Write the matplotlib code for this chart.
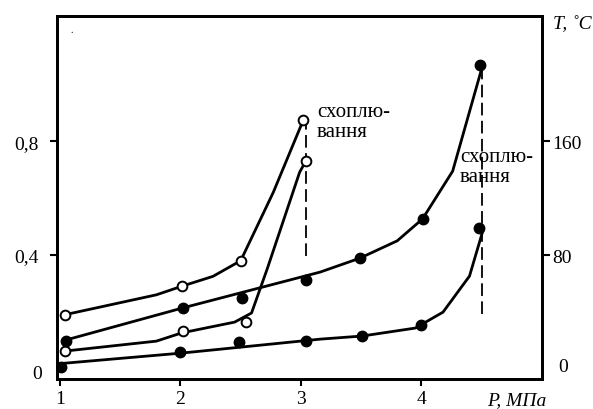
import matplotlib.pyplot as plt

plt.rcParams['font.family'] = ['Liberation Serif', 'DejaVu Serif']

# curve 1 (open circles, upper)
p1_pts = [1.04, 2.01, 2.50, 3.02]
v1_pts = [0.19, 0.29, 0.38, 0.875]
p1_line = [1.04, 1.80, 2.01, 2.27, 2.50, 2.77, 3.02]
v1_line = [0.19, 0.26, 0.29, 0.325, 0.38, 0.62, 0.875]

# curve 2 (filled circles, upper)
p2_pts = [1.05, 2.02, 2.51, 3.04, 3.49, 4.01, 4.49]
v2_pts = [0.097, 0.214, 0.249, 0.312, 0.389, 0.527, 1.068]
p2_line = [1.04, 2.02, 3.16, 3.49, 3.80, 4.01, 4.26, 4.50]
v2_line = [0.10, 0.214, 0.34, 0.389, 0.45, 0.527, 0.695, 1.054]

# curve 3 (open circles, lower)
p3_pts = [1.04, 2.02, 2.54, 3.04]
v3_pts = [0.062, 0.133, 0.164, 0.730]
p3_line = [1.04, 1.80, 2.01, 2.45, 2.59, 2.72, 2.99, 3.04]
v3_line = [0.062, 0.097, 0.126, 0.164, 0.196, 0.351, 0.692, 0.730]

# curve 4 (filled circles, lower)
p4_pts = [1.008, 1.996, 2.49, 3.04, 3.51, 4.00, 4.48]
v4_pts = [0.006, 0.059, 0.094, 0.097, 0.115, 0.154, 0.495]
p4_line = [0.975, 2.01, 3.16, 3.51, 3.95, 4.18, 4.40, 4.51]
v4_line = [0.017, 0.055, 0.104, 0.115, 0.143, 0.199, 0.326, 0.484]

# seizure limits (dashed)
seize_p = [3.04, 4.50]
seize_top = [0.875, 1.054]
seize_bot = [0.396, 0.192]

fig = plt.figure(figsize=(5.93, 4.10), dpi=100)
ax = fig.add_axes([0.0956, 0.0732, 0.8192, 0.8853])
ax.set_xlim(0.972, 5.006)
ax.set_ylim(-0.0362, 1.241)

lw = 2.0
ax.plot(p1_line, v1_line, color='k', lw=lw, zorder=2)
ax.plot(p2_line, v2_line, color='k', lw=lw, zorder=2)
ax.plot(p3_line, v3_line, color='k', lw=lw, zorder=2)
ax.plot(p4_line, v4_line, color='k', lw=lw, zorder=2)

ax.plot(p1_pts, v1_pts, 'o', mfc='white', mec='k', mew=1.4, ms=7, zorder=3)
ax.plot(p3_pts, v3_pts, 'o', mfc='white', mec='k', mew=1.4, ms=7, zorder=3)
ax.plot(p2_pts, v2_pts, 'o', color='k', ms=7.5, zorder=3)
ax.plot(p4_pts, v4_pts, 'o', color='k', ms=7.5, zorder=3)

for x, y0, y1 in zip(seize_p, seize_bot, seize_top):
    ax.plot([x, x], [y0, y1], color='k', lw=1.3, dashes=(7, 3), zorder=1)

ax.text(3.133, 0.870, 'схоплю-\nвання', fontsize=15, va='center', ha='left', linespacing=1.05)
ax.text(4.321, 0.711, 'схоплю-\nвання', fontsize=15, va='center', ha='left', linespacing=1.05)
ax.text(1.099, 1.177, '.', fontsize=7, ha='center', va='bottom')

ax.set_xticks([1, 2, 3, 4])
ax.set_xticklabels(['1', '2', '3', '4'])
ax.set_yticks([0.4, 0.8])
ax.set_yticklabels(['0,4', '0,8'])
ax.tick_params(axis='x', direction='out', length=5, width=1.5, labelsize=14, pad=3)
ax.tick_params(axis='y', direction='out', length=5, width=1.5, labelsize=14, pad=8)
for s in ax.spines.values():
    s.set_linewidth(2)

ax2 = ax.twinx()
ax2.set_ylim(-0.0362 * 200, 1.241 * 200)
ax2.set_yticks([80, 160])
ax2.set_yticklabels(['80', '160'])
ax2.tick_params(axis='y', direction='out', length=6, width=1.5, labelsize=14, pad=1)
for s in ax2.spines.values():
    s.set_linewidth(2)

# unticked zero labels
fig.text(37 / 593, 1 - 375 / 410, '0', fontsize=14, ha='center', va='center')
fig.text(563 / 593, 1 - 368 / 410, '0', fontsize=14, ha='center', va='center')

fig.text(553 / 593, 1 - 25 / 410, 'T, ˚C', fontsize=14, style='italic', ha='left', va='center')
fig.text(487 / 593, 1 - 401 / 410, 'P, МПа', fontsize=14, style='italic', ha='left', va='center')

fig.savefig('out.png', dpi=100)
